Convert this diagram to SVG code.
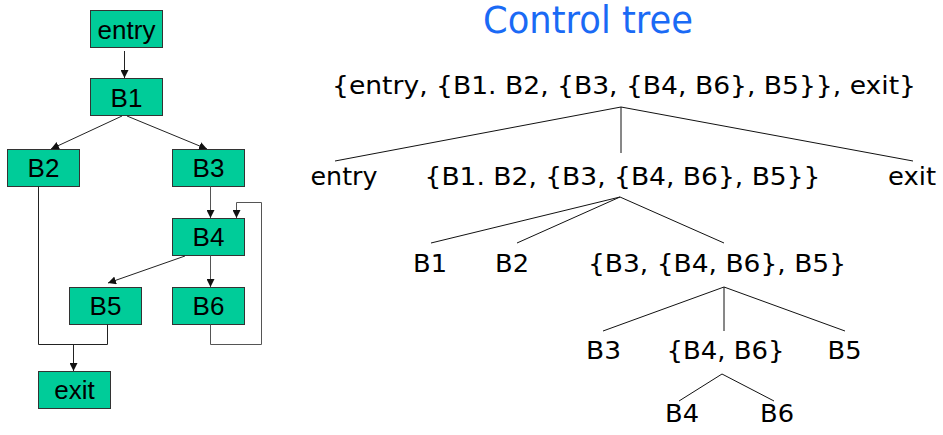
<svg xmlns="http://www.w3.org/2000/svg" width="943" height="435" viewBox="0 0 943 435">
  <style>
    .box { fill: #00CC99; stroke: #333; stroke-width: 1; }
    .blabel { font-family: "Liberation Sans", Arial, sans-serif; font-size: 26px; fill: #000; text-anchor: middle; }
    .edge { fill: none; stroke: #222; stroke-width: 1; }
    .edge-gray { fill: none; stroke: #555; stroke-width: 1; }
    .tlabel { font-family: "DejaVu Sans", Verdana, sans-serif; font-size: 25px; fill: #000; text-anchor: middle; }
    .tedge { fill: none; stroke: #111; stroke-width: 1; }
    .title { font-family: "DejaVu Sans", Verdana, sans-serif; font-size: 37px; fill: #1A6AF5; text-anchor: middle; }
  </style>
  <defs>
    <marker id="arrow" viewBox="0 0 10 10" refX="10" refY="5" markerWidth="8" markerHeight="8" markerUnits="userSpaceOnUse" orient="auto">
      <path d="M0,0 L10,5 L0,10 z" fill="#111"/>
    </marker>
  </defs>

  <rect width="943" height="435" fill="#fff"/>

  <!-- flow graph: basic blocks -->
  <g id="cfg-entry"><rect class="box" x="90.5" y="10.5" width="72" height="37"/><text class="blabel" x="126.5" y="39">entry</text></g>
  <g id="cfg-B1"><rect class="box" x="90.5" y="78.5" width="72" height="37"/><text class="blabel" x="126.5" y="107">B1</text></g>
  <g id="cfg-B2"><rect class="box" x="7.5" y="149.5" width="72" height="37"/><text class="blabel" x="43.5" y="177">B2</text></g>
  <g id="cfg-B3"><rect class="box" x="172.5" y="149.5" width="72" height="37"/><text class="blabel" x="208.5" y="177">B3</text></g>
  <g id="cfg-B4"><rect class="box" x="172.5" y="218.5" width="72" height="37"/><text class="blabel" x="208.5" y="246">B4</text></g>
  <g id="cfg-B5"><rect class="box" x="69.5" y="287.5" width="72" height="37"/><text class="blabel" x="105.5" y="315">B5</text></g>
  <g id="cfg-B6"><rect class="box" x="172.5" y="287.5" width="72" height="37"/><text class="blabel" x="208.5" y="315">B6</text></g>
  <g id="cfg-exit"><rect class="box" x="38.5" y="371.5" width="72" height="37"/><text class="blabel" x="74.5" y="399">exit</text></g>

  <!-- flow graph: edges -->
  <g id="cfg-edges">
    <path class="edge" d="M124.5,51 L124.5,78" marker-end="url(#arrow)"/>
    <path class="edge" d="M122,116 L51,149" marker-end="url(#arrow)"/>
    <path class="edge" d="M127,116 L207,149" marker-end="url(#arrow)"/>
    <path class="edge-gray" d="M210.5,186.5 L210.5,218" marker-end="url(#arrow)"/>
    <path class="edge" d="M185,256 L108,283" marker-end="url(#arrow)"/>
    <path class="edge-gray" d="M210.5,255.5 L210.5,287" marker-end="url(#arrow)"/>
    <path class="edge-gray" d="M210.5,324.5 L210.5,344.5 L261.5,344.5 L261.5,202.5 L236.5,202.5 L236.5,218" marker-end="url(#arrow)"/>
    <path class="edge" d="M38.5,186.5 L38.5,344.5 L107.5,344.5 L107.5,324.5"/>
    <path class="edge" d="M73.5,344.5 L73.5,371" marker-end="url(#arrow)"/>
  </g>

  <!-- control tree -->
  <text class="title" x="588" y="33" textLength="210" lengthAdjust="spacingAndGlyphs">Control tree</text>

  <g id="tree-edges">
    <path class="tedge" d="M621,107 L335,161 M621,107 L621,153 M621,107 L913,161"/>
    <path class="tedge" d="M620,197 L431,243 M620,197 L517,243 M620,197 L724,243"/>
    <path class="tedge" d="M724,287 L603,331 M724,287 L724,331 M724,287 L845,331"/>
    <path class="tedge" d="M722,374 L679,401 M722,374 L774,401"/>
  </g>

  <g id="t-root"><text class="tlabel" x="624" y="93.5" textLength="584" lengthAdjust="spacingAndGlyphs">{entry, {B1. B2, {B3, {B4, B6}, B5}}, exit}</text></g>
  <g id="t-entry"><text class="tlabel" x="344" y="184.5" textLength="67" lengthAdjust="spacingAndGlyphs">entry</text></g>
  <g id="t-body"><text class="tlabel" x="622.5" y="184.5" textLength="396" lengthAdjust="spacingAndGlyphs">{B1. B2, {B3, {B4, B6}, B5}}</text></g>
  <g id="t-exit"><text class="tlabel" x="912" y="184.5" textLength="48" lengthAdjust="spacingAndGlyphs">exit</text></g>
  <g id="t-B1"><text class="tlabel" x="430" y="272" textLength="34" lengthAdjust="spacingAndGlyphs">B1</text></g>
  <g id="t-B2"><text class="tlabel" x="512" y="272" textLength="34" lengthAdjust="spacingAndGlyphs">B2</text></g>
  <g id="t-loopseq"><text class="tlabel" x="717" y="272" textLength="258" lengthAdjust="spacingAndGlyphs">{B3, {B4, B6}, B5}</text></g>
  <g id="t-B3"><text class="tlabel" x="603.5" y="358.5" textLength="35" lengthAdjust="spacingAndGlyphs">B3</text></g>
  <g id="t-loop"><text class="tlabel" x="725.5" y="358.5" textLength="118" lengthAdjust="spacingAndGlyphs">{B4, B6}</text></g>
  <g id="t-B5"><text class="tlabel" x="844.5" y="358.5" textLength="34" lengthAdjust="spacingAndGlyphs">B5</text></g>
  <g id="t-B4"><text class="tlabel" x="682" y="421.5" textLength="34" lengthAdjust="spacingAndGlyphs">B4</text></g>
  <g id="t-B6"><text class="tlabel" x="777" y="421.5" textLength="34" lengthAdjust="spacingAndGlyphs">B6</text></g>
</svg>
